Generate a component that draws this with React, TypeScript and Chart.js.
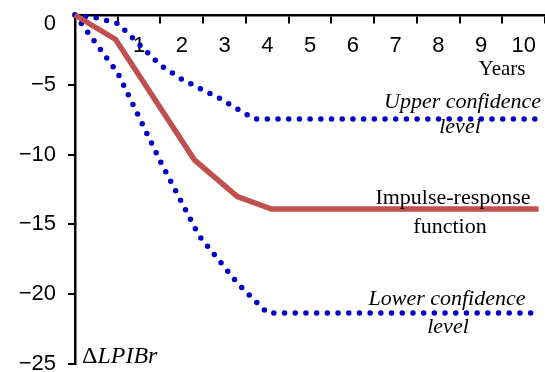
import React, { useEffect, useRef } from 'react';
import { Chart, registerables } from 'chart.js';

Chart.register(...registerables);

// Years (x) and response values (y)
const IRF_YEARS = [0, 0.95, 2.8, 3.8, 4.6, 10.85];
const IRF_VALUES = [0, -1.75, -10.4, -13.0, -13.9, -13.9];

const UPPER_YEARS = [0, 0.5, 1.0, 2.0, 2.5, 3.4, 4.2, 10.9];
const UPPER_VALUES = [0, -0.2, -0.6, -3.6, -4.6, -6.0, -7.45, -7.45];

const LOWER_YEARS = [0, 1.0, 2.0, 2.9, 3.8, 4.5, 10.9];
const LOWER_VALUES = [0, -4.15, -10.5, -15.8, -19.2, -21.35, -21.35];

const X_TICK_LABELS = ['1', '2', '3', '4', '5', '6', '7', '8', '9', '10'];
const Y_MIN = -25;
const Y_MAX = 0;
const X_MIN = 0;
const X_MAX = 11;

const toPoints = (xs: number[], ys: number[]) => xs.map((x, i) => ({ x, y: ys[i] }));

const SERIF = '"Liberation Serif", "Times New Roman", serif';
const SANS = '"Liberation Sans", Arial, sans-serif';

const annotationPlugin = {
  id: 'annotations',
  afterDraw(chart: any) {
    const ctx = chart.ctx;
    ctx.save();
    ctx.fillStyle = '#000';
    ctx.textBaseline = 'alphabetic';
    const put = (text: string, x: number, y: number, font: string, align: CanvasTextAlign) => {
      ctx.font = font;
      ctx.textAlign = align;
      ctx.fillText(text, x, y);
    };
    put('Years', 502, 75, `21px ${SERIF}`, 'center');
    put('Upper confidence', 541, 108, `italic 22px ${SERIF}`, 'right');
    put('level', 460, 133, `italic 22px ${SERIF}`, 'center');
    put('Impulse-response', 453, 204, `22px ${SERIF}`, 'center');
    put('function', 450, 233, `22px ${SERIF}`, 'center');
    put('Lower confidence', 447, 305, `italic 22px ${SERIF}`, 'center');
    put('level', 448, 333, `italic 22px ${SERIF}`, 'center');
    // ΔLPIBr
    ctx.font = `24px ${SERIF}`;
    ctx.textAlign = 'left';
    ctx.fillText('Δ', 82, 363);
    const w = ctx.measureText('Δ').width;
    ctx.font = `italic 24px ${SERIF}`;
    ctx.fillText('LPIBr', 82 + w, 363);
    ctx.restore();
  },
};

const zeroLabelPlugin = {
  id: 'zeroLabelShift',
  beforeDraw(chart: any) {
    const s = chart.scales.y;
    if (!s) return;
    const items = s.getLabelItems();
    for (const it of items) {
      if (it.label === '0' && !it._shifted) {
        it.options.translation[1] += 9;
        it._shifted = true;
      }
    }
  },
};

const dotted = {
  borderColor: '#0000c8',
  borderWidth: 5.5,
  borderDash: [0, 10.7],
  borderCapStyle: 'round' as const,
  pointRadius: 0,
  tension: 0,
  clip: false as const,
};

export default function App() {
  const ref = useRef<HTMLCanvasElement | null>(null);

  useEffect(() => {
    if (!ref.current) return;
    const chart = new Chart(ref.current, {
      type: 'line',
      data: {
        datasets: [
          {
            label: 'Impulse-response function',
            data: toPoints(IRF_YEARS, IRF_VALUES),
            borderColor: '#c0504d',
            borderWidth: 5.5,
            pointRadius: 0,
            tension: 0,
            clip: false,
          },
          {
            label: 'Upper confidence level',
            data: toPoints(UPPER_YEARS, UPPER_VALUES),
            ...dotted,
          },
          {
            label: 'Lower confidence level',
            data: toPoints(LOWER_YEARS, LOWER_VALUES),
            ...dotted,
          },
        ],
      },
      options: {
        animation: false,
        responsive: false,
        maintainAspectRatio: false,
        layout: { padding: { top: 15, bottom: 8, left: 0, right: 0 } },
        plugins: {
          legend: { display: false },
          tooltip: { enabled: false },
        },
        scales: {
          x: {
            type: 'linear',
            min: X_MIN,
            max: X_MAX,
            position: { y: 0 } as any,
            border: { display: true, color: '#000', width: 2.5 },
            grid: {
              drawOnChartArea: false,
              drawTicks: true,
              tickLength: 7,
              color: '#000',
              lineWidth: 2,
            },
            ticks: {
              stepSize: 1,
              autoSkip: false,
              maxRotation: 0,
              padding: 11,
              labelOffset: 21.5,
              color: '#000',
              font: { family: SANS, size: 22 },
              callback: (v: any) => {
                const i = Math.round(Number(v)) - 1;
                return i >= 0 && i < X_TICK_LABELS.length ? X_TICK_LABELS[i] : '';
              },
            },
            afterFit: (s: any) => {
              s.paddingLeft = 0;
              s.paddingRight = 0;
            },
          },
          y: {
            type: 'linear',
            min: Y_MIN,
            max: Y_MAX,
            position: 'left',
            border: { display: true, color: '#000', width: 2.5 },
            grid: {
              drawOnChartArea: false,
              drawTicks: true,
              tickLength: 7,
              lineWidth: 2,
              color: (c: any) => (c.tick && c.tick.value === 0 ? 'rgba(0,0,0,0)' : '#000'),
            },
            ticks: {
              stepSize: 5,
              padding: 12,
              color: '#000',
              font: { family: SANS, size: 22 },
              callback: (v: any) => (Number(v) === 0 ? '0' : '\u2212' + Math.abs(Number(v))),
            },
            afterFit: (s: any) => {
              s.width = 75;
              s.paddingTop = 0;
              s.paddingBottom = 0;
            },
          },
        },
      },
      plugins: [zeroLabelPlugin, annotationPlugin],
    });
    return () => chart.destroy();
  }, []);

  return (
    <canvas
      ref={ref}
      width={545}
      height={372}
      style={{ position: 'absolute', left: 0, top: 0, width: 545, height: 372, display: 'block' }}
    />
  );
}
